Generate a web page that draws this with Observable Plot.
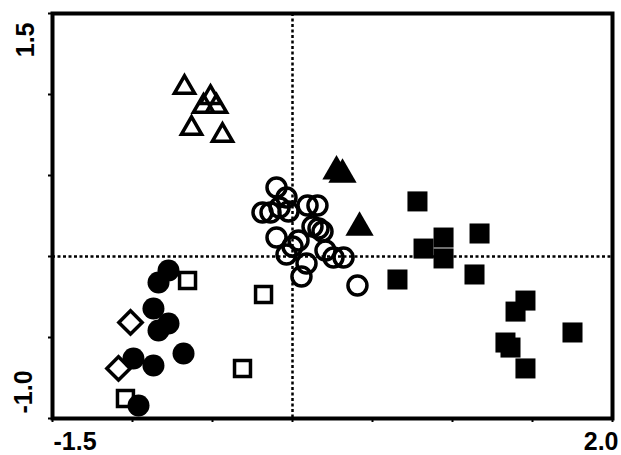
<!DOCTYPE html>
<html><head><meta charset="utf-8">
<script src="https://cdn.jsdelivr.net/npm/d3@7"></script>
<script src="https://cdn.jsdelivr.net/npm/@observablehq/plot@0.6"></script>
<style>body{margin:0;background:#fff}</style>
</head><body><div id="chart"></div>
<script>
// Open triangles
const openTriX = [-0.675, -0.5125, -0.556, -0.475, -0.631, -0.4375];
const openTriY = [1.043, 0.981, 0.926, 0.926, 0.790, 0.747];
// Filled triangles
const fillTriX = [0.275, 0.3125, 0.419];
const fillTriY = [0.525, 0.506, 0.179];
// Open circles
const openCircX = [-0.1, -0.0375, -0.1875, -0.1375, -0.081, -0.025, 0.094, 0.156, 0.125, 0.1625, 0.1875, -0.1, 0.0375, 0.0, -0.0375, 0.206, 0.256, 0.319, 0.0875, 0.056, 0.406];
const openCircY = [0.426, 0.364, 0.272, 0.272, 0.302, 0.278, 0.315, 0.315, 0.185, 0.173, 0.154, 0.117, 0.099, 0.062, 0.012, 0.037, -0.006, -0.006, -0.043, -0.123, -0.179];
// Filled squares
const fillSqX = [0.781, 1.169, 0.819, 0.944, 0.944, 1.1375, 0.656, 1.456, 1.394, 1.75, 1.331, 1.3625, 1.456];
const fillSqY = [0.340, 0.142, 0.049, 0.117, -0.012, -0.111, -0.142, -0.272, -0.340, -0.469, -0.531, -0.562, -0.691];
// Filled circles
const fillCircX = [-0.775, -0.8375, -0.869, -0.775, -0.8375, -0.681, -0.994, -0.869, -0.9625];
const fillCircY = [-0.086, -0.160, -0.321, -0.414, -0.457, -0.599, -0.630, -0.673, -0.920];
// Open diamonds
const openDiaX = [-1.0125, -1.0875];
const openDiaY = [-0.407, -0.691];
// Open squares
const openSqX = [-0.656, -0.181, -0.3125, -1.044];
const openSqY = [-0.148, -0.235, -0.691, -0.877];

// Axis ticks and labels
const tickValues = [-1.5, -1.0, -0.5, 0, 0.5, 1.0, 1.5, 2.0];
const yTickValues = [-1.0, -0.5, 0, 0.5, 1.0, 1.5];
const xLabelValues = [-1.5, 2.0];
const xLabels = ["-1.5", "2.0"];
const yLabelValues = [1.5, -1.0];
const yLabels = ["1.5", "-1.0"];

const pts = (xs, ys) => xs.map((x, i) => ({x, y: ys[i]}));

const font = "'Liberation Sans', Arial, Helvetica, sans-serif";

const chart = Plot.plot({
  width: 621,
  height: 455,
  marginLeft: 52,
  marginRight: 9,
  marginTop: 13,
  marginBottom: 37,
  x: {domain: [-1.5, 2.0], axis: null},
  y: {domain: [-1.0, 1.5], axis: null},
  style: {fontFamily: font, background: "#fff"},
  marks: [
    Plot.ruleX([0], {stroke: "#000", strokeWidth: 2.5, strokeDasharray: "3,2.5"}),
    Plot.ruleY([0], {stroke: "#000", strokeWidth: 2.5, strokeDasharray: "3,2.5"}),
    Plot.dot(pts(openCircX, openCircY), {x: "x", y: "y", symbol: "circle", r: 9.5, stroke: "#000", strokeWidth: 3.5, fill: "none"}),
    Plot.dot(pts(openTriX, openTriY), {x: "x", y: "y", symbol: "triangle", r: 7.5, stroke: "#000", strokeWidth: 3.5, fill: "none"}),
    Plot.dot(pts(fillTriX, fillTriY), {x: "x", y: "y", symbol: "triangle", r: 10.5, fill: "#000", stroke: "none"}),
    Plot.dot(pts(fillSqX, fillSqY), {x: "x", y: "y", symbol: "square", r: 11.3, fill: "#000", stroke: "none"}),
    Plot.dot(pts(fillCircX, fillCircY), {x: "x", y: "y", symbol: "circle", r: 11, fill: "#000", stroke: "none"}),
    Plot.dot(pts(openDiaX, openDiaY), {x: "x", y: "y", symbol: "diamond2", r: 10.5, stroke: "#000", strokeWidth: 3.5, fill: "none"}),
    Plot.dot(pts(openSqX, openSqY), {x: "x", y: "y", symbol: "square", r: 9, stroke: "#000", strokeWidth: 3.5, fill: "none"}),
    Plot.axisX({ticks: tickValues, tickSize: 4, tickFormat: () => "", strokeWidth: 2, label: null}),
    Plot.axisY({ticks: yTickValues, tickSize: 4, tickFormat: () => "", strokeWidth: 2, label: null}),
    Plot.frame({stroke: "#000", strokeWidth: 4}),
    Plot.text([xLabels[0]], {x: [xLabelValues[0]], y: [-1.0], text: d => d, textAnchor: "start", lineAnchor: "middle", dx: 1, dy: 23, fontSize: 25, fontWeight: "bold", fill: "#000"}),
    Plot.text([xLabels[1]], {x: [xLabelValues[1]], y: [-1.0], text: d => d, textAnchor: "end", lineAnchor: "middle", dx: 6, dy: 23, fontSize: 25, fontWeight: "bold", fill: "#000"}),
    Plot.text([yLabels[0]], {x: [-1.5], y: [yLabelValues[0]], text: d => d, rotate: -90, textAnchor: "end", lineAnchor: "middle", dx: -27, dy: 9, fontSize: 25, fontWeight: "bold", fill: "#000"}),
    Plot.text([yLabels[1]], {x: [-1.5], y: [yLabelValues[1]], text: d => d, rotate: -90, textAnchor: "start", lineAnchor: "middle", dx: -29, dy: -5, fontSize: 25, fontWeight: "bold", fill: "#000"})
  ]
});
document.getElementById("chart").appendChild(chart);
</script>
</body></html>
